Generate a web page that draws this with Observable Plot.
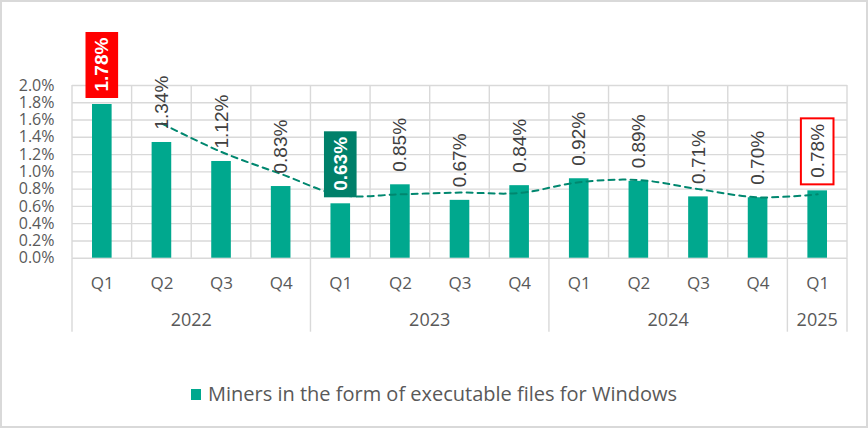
<!DOCTYPE html>
<html><head><meta charset="utf-8">
<script src="https://cdn.jsdelivr.net/npm/d3@7"></script>
<script src="https://cdn.jsdelivr.net/npm/@observablehq/plot@0.6"></script>
<style>
html,body{margin:0;padding:0;background:#fff;}
#wrap{position:relative;width:868px;height:428px;overflow:hidden;font-family:"Open Sans";}
#frame{position:absolute;left:0;top:0;width:868px;height:428px;box-sizing:border-box;border:2px solid #d9d9d9;pointer-events:none;}
#chart{position:absolute;left:0;top:0;}
#legend{position:absolute;left:0;top:380px;width:868px;height:28px;display:flex;justify-content:center;align-items:center;font:20px "Open Sans";color:#595959;line-height:28px;}
.sw{display:inline-block;width:10px;height:11px;background:#00A88E;margin-right:7px;}
</style></head><body>
<div id="wrap"><div id="chart"></div><div id="legend"><span class="sw"></span><span>Miners in the form of executable files for Windows</span></div><div id="frame"></div></div>
<script>
const years = ["2022","2022","2022","2022","2023","2023","2023","2023","2024","2024","2024","2024","2025"];
const quarters = ["Q1","Q2","Q3","Q4","Q1","Q2","Q3","Q4","Q1","Q2","Q3","Q4","Q1"];
const values = [1.78,1.34,1.12,0.83,0.63,0.85,0.67,0.84,0.92,0.89,0.71,0.70,0.78];
const labels = ["1.78%","1.34%","1.12%","0.83%","0.63%","0.85%","0.67%","0.84%","0.92%","0.89%","0.71%","0.70%","0.78%"];
const trend = [null,1.56,1.23,0.975,0.73,0.74,0.76,0.755,0.88,0.905,0.80,0.705,0.74];
const yTicks = [0,0.2,0.4,0.6,0.8,1.0,1.2,1.4,1.6,1.8,2.0];
const redFilled = ["2022 Q1"];
const greenFilled = ["2023 Q1"];
const redOutlined = ["2025 Q1"];

const keys = years.map((y,i)=>y+" "+quarters[i]);
const rows = values.map((v,i)=>({key:keys[i], q:quarters[i], year:years[i], v, t:trend[i], label:labels[i]}));
const filled = rows.filter(d=>redFilled.includes(d.key)||greenFilled.includes(d.key));
const plain = rows.filter(d=>!redFilled.includes(d.key)&&!greenFilled.includes(d.key));

const GRID = "#d9d9d9";
function groupAxis(index, scales, values, dims) {
  const x = scales.x, y = scales.y;
  const bw = x.bandwidth();
  const g = d3.create("svg:g");
  const y0 = y(0), yTop = y(2);
  const edges = keys.map(k=>x(k)).concat([x(keys[keys.length-1])+bw]);
  g.selectAll("line.v").data(edges).join("line")
    .attr("x1",d=>d).attr("x2",d=>d).attr("y1",yTop).attr("y2",y0)
    .attr("stroke",GRID).attr("stroke-width",1.4);
  const groups = d3.groups(rows, d=>d.year);
  const spans = groups.map(([yr, arr])=>({yr, a:x(arr[0].key), b:x(arr[arr.length-1].key)+bw}));
  const divs = spans.map(s=>s.a).concat([spans[spans.length-1].b]);
  g.selectAll("line.d").data(divs).join("line")
    .attr("x1",d=>d).attr("x2",d=>d).attr("y1",y0).attr("y2",y0+74)
    .attr("stroke",GRID).attr("stroke-width",1.4);
  g.selectAll("text").data(spans).join("text")
    .attr("x",d=>(d.a+d.b)/2).attr("y",y0+62).attr("dy","0.35em")
    .attr("text-anchor","middle").attr("fill","#595959")
    .attr("font-family","Open Sans").attr("font-size",18)
    .text(d=>d.yr);
  return g.node();
}

const chart = Plot.plot({
  width: 868, height: 345,
  marginLeft: 72, marginRight: 21, marginTop: 85, marginBottom: 87.3,
  x: {type:"band", domain: keys, padding: 0, round: false, axis: null},
  y: {domain:[0,2], ticks: yTicks, tickFormat: d=>d.toFixed(1)+"%", tickSize: 0, tickPadding: 18, label: null},
  style: {fontFamily:"Open Sans", fontSize:"16px", color:"#595959", background:"transparent", overflow:"visible"},
  marks: [
    Plot.ruleY(yTicks, {y: d=>d, stroke: GRID, strokeWidth: 1.4}),
    groupAxis,
    Plot.barY(rows, {x:"key", y:"v", fill:"#00A88E", insetLeft:20, insetRight:20}),
    Plot.line(rows.filter(d=>d.t!=null), {x:"key", y:"t", stroke:"#00876F", strokeWidth:2, strokeDasharray:"6,5", curve:"catmull-rom"}),
    Plot.barY(rows.filter(d=>redFilled.includes(d.key)), {x:"key", y1:"v", y2:"v", insetTop:-72, insetBottom:6, insetLeft:13.5, insetRight:13.5, fill:"#FF0000"}),
    Plot.barY(rows.filter(d=>greenFilled.includes(d.key)), {x:"key", y1:"v", y2:"v", insetTop:-72, insetBottom:6, insetLeft:13.5, insetRight:13.5, fill:"#00806A"}),
    Plot.barY(rows.filter(d=>redOutlined.includes(d.key)), {x:"key", y1:"v", y2:"v", insetTop:-72, insetBottom:6, insetLeft:13.5, insetRight:13.5, fill:"#fff", stroke:"#FF0000", strokeWidth:2}),
    Plot.text(plain, {x:"key", y:"v", text:"label", rotate:-90, textAnchor:"start", lineAnchor:"middle", dy:-13, fontFamily:"Liberation Sans", fontSize:19, fill:"#404040"}),
    Plot.text(filled, {x:"key", y:"v", text:"label", rotate:-90, textAnchor:"start", lineAnchor:"middle", dy:-13, fontFamily:"Liberation Sans", fontSize:19, fontWeight:"bold", fill:"#fff"}),
    Plot.text(rows, {x:"key", y:()=>0, text:"q", dy:25, lineAnchor:"middle", fontFamily:"Open Sans", fontSize:17, fill:"#595959"})
  ]
});
document.getElementById("chart").appendChild(chart);
</script>
</body></html>
